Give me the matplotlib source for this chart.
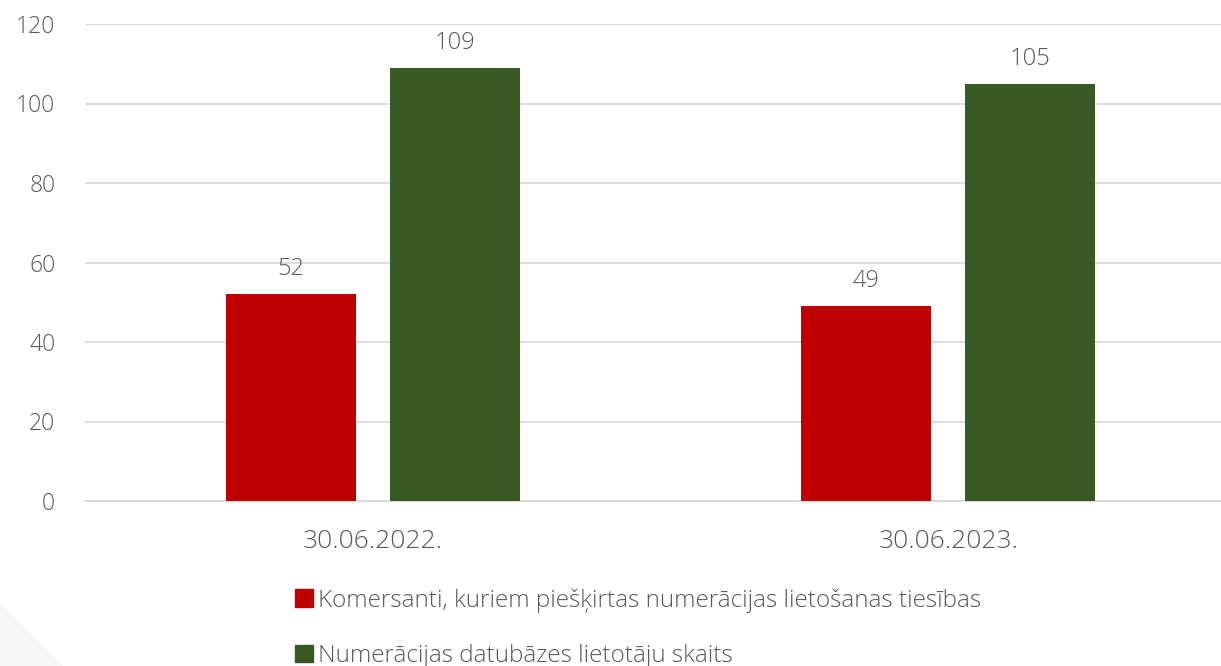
import numpy as np
import matplotlib.pyplot as plt
from matplotlib.patches import Polygon, Rectangle

categories = ['30.06.2022.', '30.06.2023.']
series_names = ['Komersanti, kuriem piešķirtas numerācijas lietošanas tiesības',
                'Numerācijas datubāzes lietotāju skaits']
komersanti = [52, 49]
lietotaji = [109, 105]
colors = ['#c00000', '#3a5a24']
yticks = [0, 20, 40, 60, 80, 100, 120]

plt.rcParams['font.family'] = ['Open Sans', 'DejaVu Sans']
text_color = '#595959'

fig = plt.figure(figsize=(12.21, 6.66), dpi=100)
# axes spans beyond right edge like the reference
ax = fig.add_axes([85 / 1221, 1 - 501 / 666, (1236 - 85) / 1221, (501 - 24) / 666])

x = np.arange(len(categories))
width = 0.226
offset = 0.1424
for vals, col, name, sign in [(komersanti, colors[0], series_names[0], -1),
                              (lietotaji, colors[1], series_names[1], 1)]:
    bars = ax.bar(x + sign * offset, vals, width, color=col, label=name, zorder=3)
    for b, v in zip(bars, vals):
        ax.text(b.get_x() + b.get_width() / 2, v + 4.8, str(v), ha='center', va='baseline',
                fontsize=17, color=text_color, fontweight='light')

ax.set_xlim(-0.5, 1.5)
ax.set_ylim(0, 120)
ax.set_yticks(yticks)
ax.yaxis.grid(True, color='#d9d9d9', linewidth=1.3, zorder=0)
ax.set_xticks(x)
ax.set_xticklabels(categories)
ax.tick_params(axis='both', length=0, colors=text_color)
ax.tick_params(axis='x', pad=20, labelsize=19)
ax.tick_params(axis='y', pad=21.5, labelsize=16.5)
for lab in ax.get_xticklabels() + ax.get_yticklabels():
    lab.set_fontweight('light')
for s in ['top', 'right', 'left']:
    ax.spines[s].set_visible(False)
ax.spines['bottom'].set_color('#d9d9d9')
ax.spines['bottom'].set_linewidth(1.3)
ax.set_axisbelow(True)

# faint corner decoration
fig.patches.append(Polygon([[0, 0], [0, 63 / 666], [63 / 1221, 0]], closed=True,
                           transform=fig.transFigure, facecolor='#f7f7f7', edgecolor='none', zorder=0))

handles = [Rectangle((0, 0), 1, 1, color=c) for c in colors]
leg = fig.legend(handles, series_names, loc='upper left', bbox_to_anchor=(295 / 1221, 1 - 588 / 666),
                 ncol=1, frameon=False, fontsize=17.5, handlelength=0.72, handleheight=0.72,
                 handletextpad=0.22, labelspacing=1.3, labelcolor=text_color,
                 borderpad=0, borderaxespad=0)
for t in leg.get_texts():
    t.set_fontweight('light')

fig.savefig('out.png', dpi=100)
